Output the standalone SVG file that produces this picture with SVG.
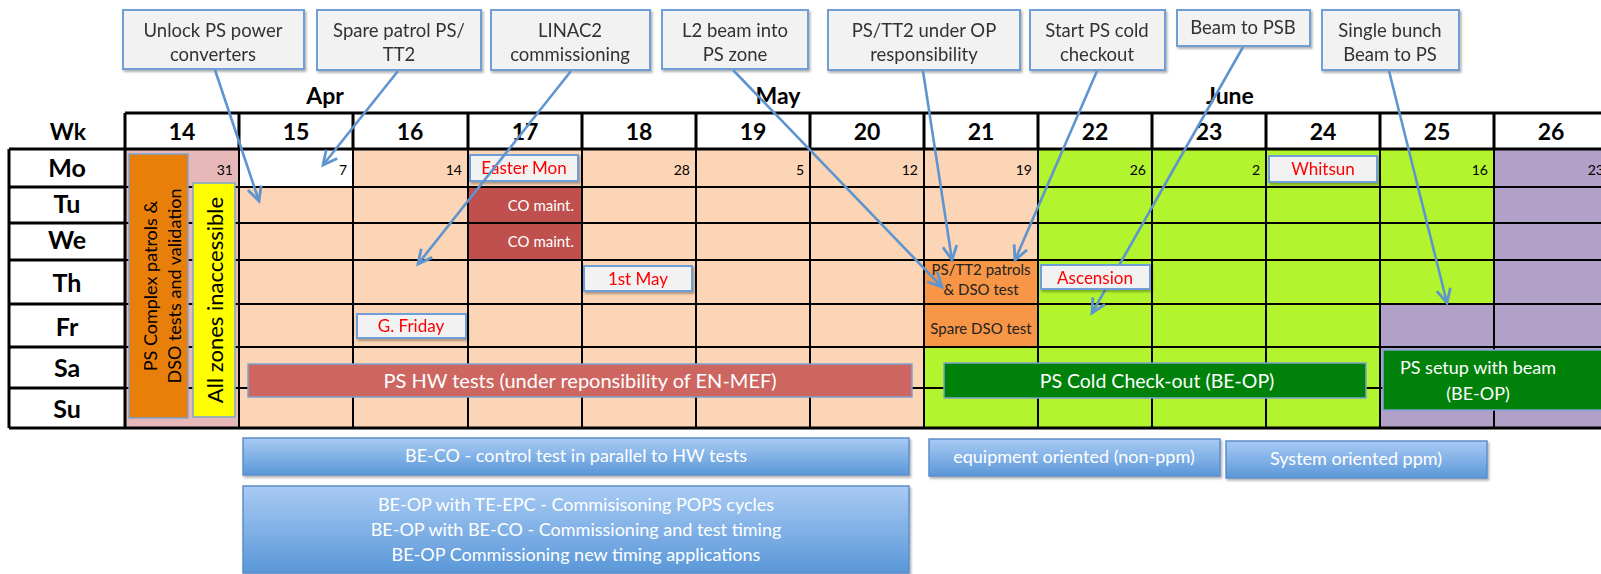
<svg xmlns="http://www.w3.org/2000/svg" width="1601" height="574" viewBox="0 0 1601 574">
<defs>
<style>
text{font-family:Lato,"Liberation Sans",sans-serif}
.wk{font-weight:bold;font-size:23px;text-anchor:middle;fill:#000}
.day{font-weight:bold;font-size:25px;text-anchor:middle;fill:#000}
.mon{font-weight:bold;font-size:23px;text-anchor:middle;fill:#000}
.num{font-size:14px;text-anchor:end;fill:#000}
.call rect{fill:#f2f2f2;stroke:#6f9fd8;stroke-width:2}
.call text{font-size:18.5px;text-anchor:middle;fill:#333}
.hol rect{fill:#f2f2f2;stroke:#6f9fd8;stroke-width:2}
.hol text{font-size:17px;text-anchor:middle;fill:#ff0000}
.grid line{stroke:#000;stroke-width:2}
.thick{stroke:#000;stroke-width:3;fill:none}
.wt{fill:#fff;text-anchor:middle}
.bt{fill:#fff;text-anchor:middle;font-size:18px}
.blue{fill:url(#bg);stroke:#5b8fcb;stroke-width:1.5}
.conn line{stroke:#5f95cf;stroke-width:2.6;marker-end:url(#ah)}
</style>
<linearGradient id="bg" x1="0" y1="0" x2="0" y2="1">
<stop offset="0" stop-color="#a9cbf4"/>
<stop offset="1" stop-color="#5a97d8"/>
</linearGradient>
<filter id="sh" x="-5%" y="-20%" width="110%" height="150%">
<feDropShadow dx="1.5" dy="2" stdDeviation="1.2" flood-color="#000" flood-opacity="0.3"/>
</filter>
<marker id="ah" markerUnits="userSpaceOnUse" markerWidth="20" markerHeight="20" refX="15" refY="8" orient="auto" viewBox="0 0 20 16">
<path d="M1,1 L15,8 L1,15" fill="none" stroke="#5f95cf" stroke-width="2.8" stroke-linejoin="miter"/>
</marker>
</defs>
<rect width="1601" height="574" fill="#fff"/>

<g id="months">
<text class="mon" x="325" y="104">Apr</text>
<text class="mon" x="778" y="104">May</text>
<text class="mon" x="1230" y="104">June</text>
</g>

<g id="cells">
<rect x="125" y="149" width="114" height="279" fill="#e6b9b8"/>
<rect x="239" y="149" width="799" height="279" fill="#fbd5b5"/>
<rect x="239" y="149" width="114" height="38" fill="#fff"/>
<rect x="468" y="187" width="114" height="73" fill="#c0504d"/>
<rect x="924" y="260" width="114" height="87" fill="#f79646"/>
<rect x="924" y="347" width="114" height="81" fill="#b2f42e"/>
<rect x="1038" y="149" width="456" height="155" fill="#b2f42e"/>
<rect x="1038" y="304" width="342" height="124" fill="#b2f42e"/>
<rect x="1380" y="304" width="230" height="124" fill="#b1a0c7"/>
<rect x="1494" y="149" width="116" height="155" fill="#b1a0c7"/>
<rect x="9" y="149" width="116" height="279" fill="#fff"/>
<rect x="125" y="113" width="1485" height="36" fill="#fff"/>
</g>

<g id="grid" class="grid">
<line x1="9" y1="187" x2="1610" y2="187"/>
<line x1="9" y1="223" x2="1610" y2="223"/>
<line x1="9" y1="260" x2="1610" y2="260"/>
<line x1="9" y1="304" x2="1610" y2="304"/>
<line x1="9" y1="347" x2="1610" y2="347"/>
<line x1="9" y1="388" x2="1610" y2="388"/>
<line x1="239" y1="149" x2="239" y2="428"/>
<line x1="353" y1="149" x2="353" y2="428"/>
<line x1="468" y1="149" x2="468" y2="428"/>
<line x1="582" y1="149" x2="582" y2="428"/>
<line x1="696" y1="149" x2="696" y2="428"/>
<line x1="810" y1="149" x2="810" y2="428"/>
<line x1="924" y1="149" x2="924" y2="428"/>
<line x1="1038" y1="149" x2="1038" y2="428"/>
<line x1="1152" y1="149" x2="1152" y2="428"/>
<line x1="1266" y1="149" x2="1266" y2="428"/>
<line x1="1380" y1="149" x2="1380" y2="428"/>
<line x1="1494" y1="149" x2="1494" y2="428"/>
<path class="thick" d="M125,113 H1610 M125,149 H1610 M9,428 H1610 M125,113 V428 M239,113 V149 M353,113 V149 M468,113 V149 M582,113 V149 M696,113 V149 M810,113 V149 M924,113 V149 M1038,113 V149 M1152,113 V149 M1266,113 V149 M1380,113 V149 M1494,113 V149"/>
<path class="thick" d="M9,149 H125 M9,187 H125 M9,223 H125 M9,260 H125 M9,304 H125 M9,347 H125 M9,388 H125 M9,149 V428"/>
</g>

<g id="header">
<text class="wk" x="68" y="140">Wk</text>
<text class="wk" x="182" y="140">14</text>
<text class="wk" x="296" y="140">15</text>
<text class="wk" x="410" y="140">16</text>
<text class="wk" x="525" y="140">17</text>
<text class="wk" x="639" y="140">18</text>
<text class="wk" x="753" y="140">19</text>
<text class="wk" x="867" y="140">20</text>
<text class="wk" x="981" y="140">21</text>
<text class="wk" x="1095" y="140">22</text>
<text class="wk" x="1209" y="140">23</text>
<text class="wk" x="1323" y="140">24</text>
<text class="wk" x="1437" y="140">25</text>
<text class="wk" x="1551" y="140">26</text>
</g>

<g id="days">
<text class="day" x="67" y="177">Mo</text>
<text class="day" x="67" y="213">Tu</text>
<text class="day" x="67" y="249">We</text>
<text class="day" x="67" y="292">Th</text>
<text class="day" x="67" y="336">Fr</text>
<text class="day" x="67" y="377">Sa</text>
<text class="day" x="67" y="418">Su</text>
</g>

<g id="dates">
<text class="num" x="233" y="175">31</text>
<text class="num" x="347" y="175">7</text>
<text class="num" x="462" y="175">14</text>
<text class="num" x="690" y="175">28</text>
<text class="num" x="804" y="175">5</text>
<text class="num" x="918" y="175">12</text>
<text class="num" x="1032" y="175">19</text>
<text class="num" x="1146" y="175">26</text>
<text class="num" x="1260" y="175">2</text>
<text class="num" x="1488" y="175">16</text>
<text class="num" x="1604" y="175">23</text>
</g>

<g id="co-maint">
<text x="574" y="211" font-size="15" fill="#fff" text-anchor="end">CO maint.</text>
<text x="574" y="247" font-size="15" fill="#fff" text-anchor="end">CO maint.</text>
</g>

<g id="dso" fill="#222">
<text x="981" y="275" text-anchor="middle" font-size="15">PS/TT2 patrols</text>
<text x="981" y="295" text-anchor="middle" font-size="15">&amp; DSO test</text>
<text x="981" y="334" text-anchor="middle" font-size="15">Spare DSO test</text>
</g>

<g id="ps-complex">
<rect x="129" y="154" width="59" height="264" fill="#e87f0a" stroke="#7ea3cf" stroke-width="1.5"/>
<text transform="translate(157,286) rotate(-90)" font-size="18" text-anchor="middle" fill="#000">PS Complex patrols &amp;</text>
<text transform="translate(181,286) rotate(-90)" font-size="18" text-anchor="middle" fill="#000">DSO tests and validation</text>
</g>
<g id="all-zones">
<rect x="193" y="183" width="42" height="234" fill="#ffff00" stroke="#7ea3cf" stroke-width="1.5"/>
<text transform="translate(223,300) rotate(-90)" font-size="22" text-anchor="middle" fill="#000">All zones inaccessible</text>
</g>

<g id="hw-tests">
<rect x="248" y="364" width="664" height="33" fill="#cd6660" stroke="#7ea3cf" stroke-width="1.5"/>
<text class="wt" x="580" y="388" font-size="20">PS HW tests (under reponsibility of EN-MEF)</text>
</g>
<g id="cold-checkout">
<rect x="944" y="363" width="422" height="35" fill="#00820a" stroke="#7ea3cf" stroke-width="1.5"/>
<text class="wt" x="1157" y="388" font-size="19.5">PS Cold Check-out (BE-OP)</text>
</g>
<g id="setup-beam">
<rect x="1383" y="350" width="230" height="60" fill="#00820a" stroke="#7ea3cf" stroke-width="1.5"/>
<text class="wt" x="1478" y="374" font-size="18">PS setup with beam</text>
<text class="wt" x="1478" y="400" font-size="18">(BE-OP)</text>
</g>

<g id="easter" class="hol" filter="url(#sh)"><rect x="470" y="155" width="108" height="26"/><text x="524" y="174">Easter Mon</text></g>
<g id="whitsun" class="hol" filter="url(#sh)"><rect x="1269" y="156" width="108" height="26"/><text x="1323" y="175">Whitsun</text></g>
<g id="firstmay" class="hol" filter="url(#sh)"><rect x="584" y="266" width="108" height="25"/><text x="638" y="285">1st May</text></g>
<g id="gfriday" class="hol" filter="url(#sh)"><rect x="357" y="314" width="109" height="24"/><text x="411" y="332">G. Friday</text></g>

<g id="beco"><rect class="blue" x="243" y="438" width="666" height="37" filter="url(#sh)"/><text class="bt" x="576" y="462">BE-CO - control test in parallel to HW tests</text></g>
<g id="beop"><rect class="blue" x="243" y="486" width="666" height="87" filter="url(#sh)"/>
<text class="bt" x="576" y="511">BE-OP with TE-EPC - Commisisoning POPS cycles</text>
<text class="bt" x="576" y="536">BE-OP with BE-CO - Commissioning and test timing</text>
<text class="bt" x="576" y="561">BE-OP Commissioning new timing applications</text></g>
<g id="equip"><rect class="blue" x="929" y="439" width="291" height="37" filter="url(#sh)"/><text class="bt" x="1074" y="463">equipment oriented (non-ppm)</text></g>
<g id="system"><rect class="blue" x="1226" y="441" width="261" height="37" filter="url(#sh)"/><text class="bt" x="1356" y="465">System oriented ppm)</text></g>

<g id="c-unlock" class="call" filter="url(#sh)"><rect x="123" y="10" width="181" height="59"/><text x="213" y="37">Unlock PS power</text><text x="213" y="61">converters</text></g>
<g id="c-spare" class="call" filter="url(#sh)"><rect x="317" y="10" width="164" height="60"/><text x="399" y="37">Spare patrol PS/</text><text x="399" y="61">TT2</text></g>
<g id="c-linac" class="call" filter="url(#sh)"><rect x="491" y="10" width="159" height="60"/><text x="570" y="37">LINAC2</text><text x="570" y="61">commissioning</text></g>
<g id="c-l2" class="call" filter="url(#sh)"><rect x="662" y="10" width="146" height="59"/><text x="735" y="37">L2 beam into</text><text x="735" y="61">PS zone</text></g>
<g id="c-pstt2" class="call" filter="url(#sh)"><rect x="828" y="10" width="192" height="60"/><text x="924" y="37">PS/TT2 under OP</text><text x="924" y="61">responsibility</text></g>
<g id="c-start" class="call" filter="url(#sh)"><rect x="1030" y="10" width="135" height="60"/><text x="1097" y="37">Start PS cold</text><text x="1097" y="61">checkout</text></g>
<g id="c-psb" class="call" filter="url(#sh)"><rect x="1177" y="10" width="133" height="36"/><text x="1243" y="34">Beam to PSB</text></g>
<g id="c-single" class="call" filter="url(#sh)"><rect x="1322" y="10" width="137" height="60"/><text x="1390" y="37">Single bunch</text><text x="1390" y="61">Beam to PS</text></g>

<g id="connectors" class="conn">
<line x1="215" y1="70" x2="259" y2="201"/>
<line x1="398" y1="71" x2="323" y2="165"/>
<line x1="571" y1="71" x2="418" y2="264"/>
<line x1="733" y1="70" x2="942" y2="287"/>
<line x1="923" y1="71" x2="952" y2="260"/>
<line x1="1097" y1="71" x2="1015" y2="260"/>
<line x1="1243" y1="47" x2="1092" y2="313"/>
<line x1="1389" y1="71" x2="1447" y2="303"/>
</g>

<g id="ascension" class="hol" filter="url(#sh)"><rect x="1041" y="265" width="109" height="24"/><text x="1095" y="284">Ascension</text></g>
</svg>
